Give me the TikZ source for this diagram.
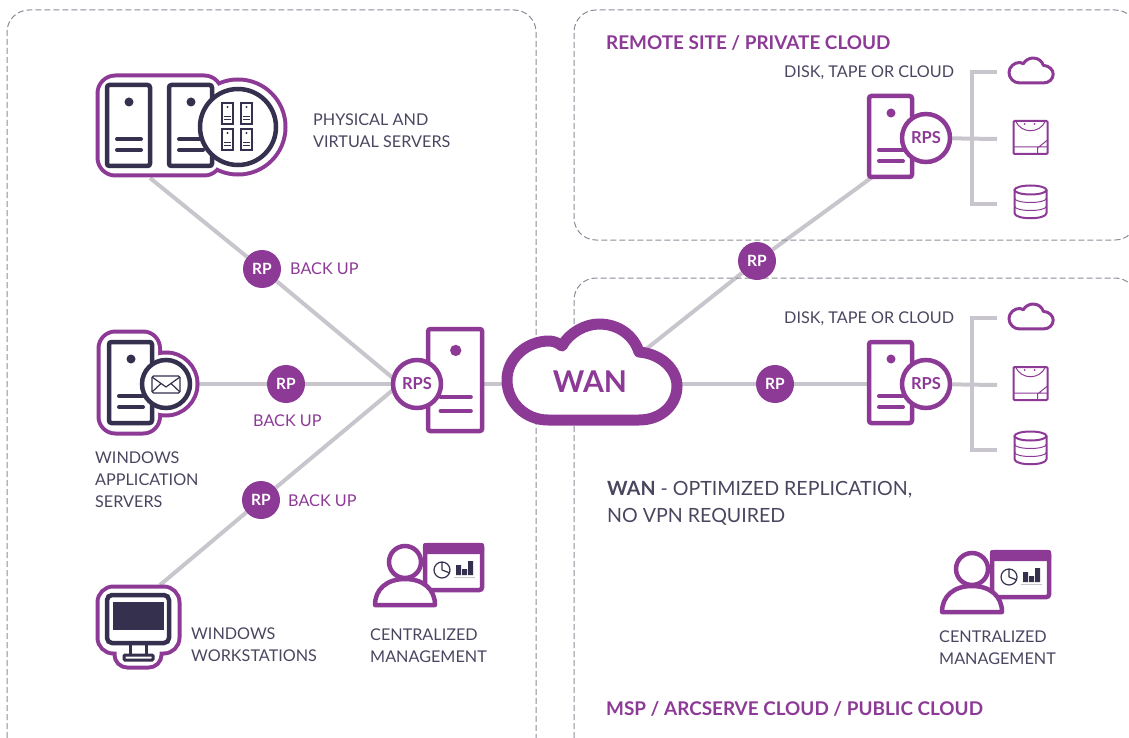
\documentclass[tikz,border=0pt]{standalone}
\usepackage{fontspec}
\setmainfont{Lato}
\usetikzlibrary{backgrounds}
\definecolor{arcpurple}{HTML}{8C3A96}
\definecolor{arcdark}{HTML}{36304F}
\definecolor{arctext}{HTML}{4A4660}
\definecolor{arclink}{HTML}{C8C6CC}
\definecolor{arcdash}{HTML}{8E8A98}
\tikzset{
	panel/.style = {draw=arcdash, line width=1pt, dash pattern=on 6pt off 3pt, rounded corners=22pt},
	linkline/.style = {draw=arclink, line width=4pt},
	label/.style = {font=\fontsize{16.2}{22}\selectfont, text=arctext, align=left, anchor=west, inner sep=0pt},
	backup/.style = {font=\fontsize{16.2}{22}\selectfont, text=arcpurple, anchor=west, inner sep=0pt},
	sitename/.style = {font=\fontsize{18.9}{22}\selectfont\bfseries, text=arcpurple, anchor=west, inner sep=0pt},
	rpdot/.style = {circle, fill=arcpurple, text=white, minimum size=38pt, inner sep=0pt, font=\fontsize{15.5}{18}\selectfont\bfseries},
	rpsring/.style = {circle, draw=arcpurple, fill=white, line width=4.5pt, text=arcpurple, minimum size=48pt, inner sep=0pt, font=\fontsize{16.5}{18}\selectfont\bfseries},
	pics/tower/.style = {code={
		\draw[#1, fill=white, line width=4.5pt, rounded corners=2.5pt] (0,0) rectangle (43,81);
		\fill[#1] (22,17) circle[radius=4.5];
		\draw[#1, line width=4pt, line cap=round] (10,54) -- (34,54) (10,65) -- (34,65);
	}},
	pics/minitower/.style = {code={
		\draw[arcdark, line width=1.2pt] (0,0) rectangle (11,21);
		\fill[arcdark] (5.5,4) circle[radius=1.2];
		\draw[arcdark, line width=1.2pt] (2,13.5) -- (9,13.5) (2,16.5) -- (9,16.5);
	}},
	pics/cloudline/.style = {code={
		\draw[arcpurple, fill=white, line width=#1, line join=round]
			(41,96) .. controls (18,96) and (0,78) .. (0,56)
			.. controls (0,34) and (20,17) .. (42,17)
			.. controls (47,17) and (51,19) .. (55,22)
			.. controls (62,9) and (78,0) .. (92,0)
			.. controls (112,0) and (127,12) .. (132,28)
			.. controls (155,30) and (170,46) .. (170,62)
			.. controls (170,80) and (155,96) .. (132,96) -- cycle;
	}},
	pics/tapebox/.style = {code={
		\draw[arcpurple, line width=2pt, rounded corners=1pt] (0,0) rectangle (34,33);
		\draw[arcpurple, line width=1pt] (2,0) .. controls (8,13) and (26,13) .. (32,0);
		\fill[arcpurple] (11,3) circle[radius=1] (21,3) circle[radius=1];
		\draw[arcpurple, line width=1pt] (0,26) -- (34,26) (34,19) -- (24,27) -- (24,33);
	}},
	pics/diskstack/.style = {code={
		\draw[arcpurple, line width=2pt] (16,5) ellipse[x radius=16, y radius=4.5];
		\draw[arcpurple, line width=2pt] (0,5) -- (0,28) .. controls (0,35) and (32,35) .. (32,28) -- (32,5);
		\draw[arcpurple, line width=1pt] (0,13) .. controls (0,19) and (32,19) .. (32,13) (0,21) .. controls (0,27) and (32,27) .. (32,21);
	}},
	pics/manager/.style = {code={
		\draw[arcpurple, fill=white, line width=4.5pt, rounded corners=2.5pt] (2,2) rectangle (59,47);
		\fill[arcpurple, rounded corners=2pt] (0,0) rectangle (61,11);
		\draw[arcdark, line width=1.2pt] (19,27) circle[radius=8] (19,27) -- (19,19) (19,27) -- (27,30);
		\fill[arcdark] (33,22) rectangle (38,32) (39,26) rectangle (44,32) (45,18) rectangle (50,32);
		\draw[arclink, line width=1.5pt] (31,34.5) -- (52,34.5);
		\draw[arcpurple, fill=white, line width=4.5pt, line join=round] (-48,62) .. controls (-48,46) and (-36,36) .. (-18,36) .. controls (0,36) and (12,46) .. (12,62) -- cycle;
		\draw[arcpurple, fill=white, line width=4.5pt] (-18,19) circle[radius=16];
	}},
}

\begin{document}
\begin{tikzpicture}[x=1pt, y=-1pt]
	\useasboundingbox (0,0) rectangle (1129,738);

	% the three sites
	\draw[panel] (7,738) -- (7,10) -- (536,10) -- (536,738);
	\draw[panel] (1137,100) -- (1137,10) -- (574,10) -- (574,240) -- (1137,240) -- (1137,100);
	\draw[panel] (574,738) -- (574,278) -- (1137,278) -- (1137,340);

	% where the links meet
	\coordinate (physical) at (150,178);
	\coordinate (appserver) at (199,384);
	\coordinate (workstation) at (160,585);
	\coordinate (rpshub) at (400,384);
	\coordinate (wanleft) at (520,384);
	\coordinate (wanright) at (665,384);
	\coordinate (wantop) at (645,350);
	\coordinate (branchtop) at (972,72);
	\coordinate (branchbottom) at (972,204);
	\coordinate (tapetop) at (997,139);
	\coordinate (cloudtop) at (997,72);
	\coordinate (disktop) at (997,204);
	\coordinate (branchlow) at (972,318);
	\coordinate (branchend) at (972,450);
	\coordinate (tapelow) at (997,385);
	\coordinate (cloudlow) at (997,318);
	\coordinate (disklow) at (997,450);

	\node[rpdot] (rpphysical) at (262,269) {RP};
	\node[rpdot] (rpapp) at (286,384) {RP};
	\node[rpdot] (rpwork) at (261,500) {RP};
	\node[rpdot] (rpremote) at (757,261) {RP};
	\node[rpdot] (rpcloud) at (775,384) {RP};

	% main server
	\pic[scale=1.26] at (428,329) {tower=arcpurple};
	\node[rpsring] (rpsmain) at (417,384) {RPS};

	% WAN
	\pic at (507,324) {cloudline=11pt};
	\node[font=\fontsize{30}{36}\selectfont\bfseries, text=arcpurple, inner sep=0pt] (wan) at (590,382) {WAN};

	% remote servers
	\pic at (869,96) {tower=arcpurple};
	\node[rpsring] (rpsremote) at (926,138) {RPS};
	\pic at (869,342) {tower=arcpurple};
	\node[rpsring] (rpscloud) at (926,384) {RPS};

	\begin{pgfonlayer}{background}
		\draw[linkline] (physical) -- (rpphysical) -- (rpshub);
		\draw[linkline] (appserver) -- (rpapp) -- (rpshub);
		\draw[linkline] (workstation) -- (rpwork) -- (rpshub);
		\draw[linkline] (rpsmain) -- (wanleft);
		\draw[linkline] (wantop) -- (rpremote) -- (rpsremote);
		\draw[linkline] (wanright) -- (rpcloud) -- (rpscloud);
		\draw[linkline] (rpsremote) -- (tapetop);
		\draw[linkline] (cloudtop) -- (branchtop) -- (branchbottom) -- (disktop);
		\draw[linkline] (rpscloud) -- (tapelow);
		\draw[linkline] (cloudlow) -- (branchlow) -- (branchend) -- (disklow);
	\end{pgfonlayer}

	% physical and virtual servers
	\draw[arcpurple, line width=8pt, rounded corners=16pt] (99.5,77.5) rectangle (220,173.5);
	\draw[arcpurple, line width=8pt] (238,127) circle[radius=45.5];
	\fill[white, rounded corners=16pt] (99.5,77.5) rectangle (220,173.5);
	\fill[white] (238,127) circle[radius=45.5];
	\pic at (107,85) {tower=arcdark};
	\pic at (169,85) {tower=arcdark};
	\draw[arcdark, fill=white, line width=4.5pt] (238,127) circle[radius=38];
	\foreach \px in {222,241}
		\foreach \py in {103,129}
			\pic at (\px,\py) {minitower};

	% windows application servers
	\draw[arcpurple, line width=8pt, rounded corners=15pt] (100.5,333.5) rectangle (158,431.5);
	\draw[arcpurple, line width=8pt] (166,384) circle[radius=29.5];
	\fill[white, rounded corners=15pt] (100.5,333.5) rectangle (158,431.5);
	\fill[white] (166,384) circle[radius=29.5];
	\pic at (109,342) {tower=arcdark};
	\draw[arcdark, fill=white, line width=4.5pt] (166,384) circle[radius=24];
	\draw[arcdark, line width=1.2pt, rounded corners=1.5pt] (152,376) rectangle (180,393);
	\draw[arcdark, line width=1.2pt] (152,377) -- (166,387) -- (180,377) (152,392) -- (161,383.5) (180,392) -- (171,383.5);

	% windows workstations
	\draw[arcpurple, line width=8pt, rounded corners=14pt] (99.5,588.5) rectangle (177.5,651.5);
	\draw[arcpurple, line width=8pt, rounded corners=11pt] (116.5,640) rectangle (159.5,665.5);
	\fill[white, rounded corners=14pt] (99.5,588.5) rectangle (177.5,651.5);
	\fill[white, rounded corners=11pt] (116.5,640) rectangle (159.5,665.5);
	\draw[arcdark, line width=4.5pt, rounded corners=5pt] (107,595) rectangle (169,643);
	\fill[arcdark] (113,602) rectangle (164,630);
	\draw[arcdark, line width=3pt] (130,645) -- (130,655) (146,645) -- (146,655);
	\draw[arcdark, line width=3pt, rounded corners=1pt] (124,655) rectangle (153,660);

	% centralized management
	\pic at (423,543) {manager};
	\pic at (990,550) {manager};

	% storage targets
	\pic[scale=0.26] at (1009,58) {cloudline=3pt};
	\pic at (1013.5,121) {tapebox};
	\pic at (1014.5,185) {diskstack};
	\pic[scale=0.26] at (1009,304) {cloudline=3pt};
	\pic at (1013.5,367) {tapebox};
	\pic at (1014.5,431) {diskstack};

	% texts
	\node[label] (physicaltext) at (313,131) {PHYSICAL AND\\VIRTUAL SERVERS};
	\node[label] (apptext) at (95,480) {WINDOWS\\APPLICATION\\SERVERS};
	\node[label] (worktext) at (191,645) {WINDOWS\\WORKSTATIONS};
	\node[label] (mgmtleft) at (370,646) {CENTRALIZED\\MANAGEMENT};
	\node[label] (mgmtright) at (939,648) {CENTRALIZED\\MANAGEMENT};
	\node[label] (disktext) at (784,73) {DISK, TAPE OR CLOUD};
	\node[label] (disktextlow) at (784,319) {DISK, TAPE OR CLOUD};
	\node[backup] (backupa) at (290,269) {BACK UP};
	\node[backup] (backupb) at (253,421) {BACK UP};
	\node[backup] (backupc) at (288,501) {BACK UP};
	\node[sitename] (remotename) at (606,43) {REMOTE SITE / PRIVATE CLOUD};
	\node[sitename] (mspname) at (606,709) {MSP / ARCSERVE CLOUD / PUBLIC CLOUD};
	\node[label, font=\fontsize{19.6}{27}\selectfont] (wantext) at (607,503) {\textbf{WAN} - OPTIMIZED REPLICATION,\\NO VPN REQUIRED};
\end{tikzpicture}
\end{document}
